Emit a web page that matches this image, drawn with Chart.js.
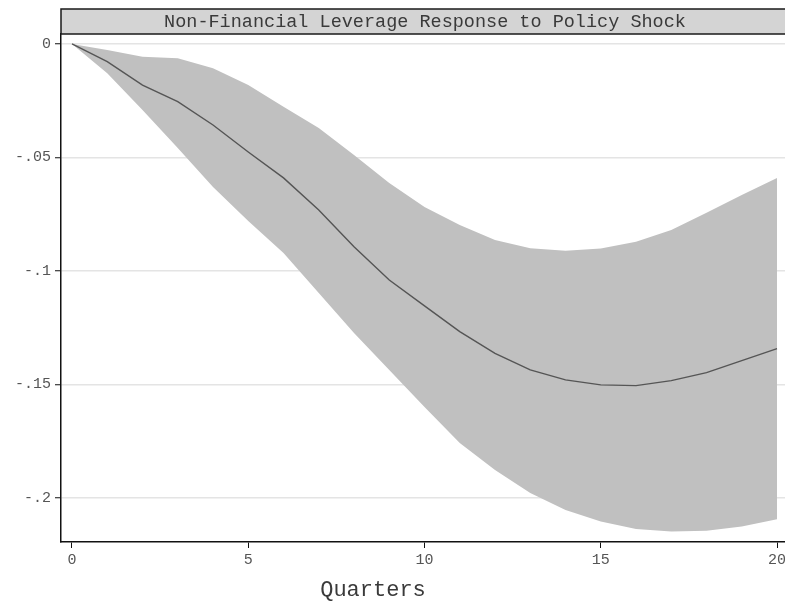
<!DOCTYPE html>
<html>
<head>
<meta charset="utf-8">
<script src="https://cdn.jsdelivr.net/npm/chart.js@4.4.0/dist/chart.umd.min.js"></script>
<style>
  html, body { margin: 0; padding: 0; background: #fff; overflow: hidden; }
  #wrap { width: 785px; height: 601px; overflow: hidden; }
</style>
</head>
<body>
<div id="wrap"><canvas id="irf" width="791" height="601"></canvas></div>
<script>
// quarters after the shock
var quarters = [0,1,2,3,4,5,6,7,8,9,10,11,12,13,14,15,16,17,18,19,20];

// point response
var response = [0, -0.0078, -0.0181, -0.0254, -0.0357, -0.0476, -0.0590, -0.0731, -0.0893, -0.1040,
  -0.1154, -0.1267, -0.1363, -0.1436, -0.1480, -0.1502, -0.1505, -0.1483, -0.1448, -0.1395, -0.1342];

// confidence band
var upper = [0, -0.0026, -0.0056, -0.0063, -0.0107, -0.0181, -0.0276, -0.0370, -0.0489, -0.0612,
  -0.0718, -0.0797, -0.0863, -0.0900, -0.0911, -0.0901, -0.0871, -0.0819, -0.0744, -0.0665, -0.0590];
var lower = [0, -0.0129, -0.0291, -0.0458, -0.0630, -0.0780, -0.0921, -0.1097, -0.1273, -0.1436,
  -0.1599, -0.1758, -0.1877, -0.1978, -0.2053, -0.2104, -0.2137, -0.2148, -0.2144, -0.2126, -0.2094];

var xTicks = [0, 5, 10, 15, 20];
var yTicks = [0, -0.05, -0.1, -0.15, -0.2];

var chartTitle = 'Non-Financial Leverage Response to Policy Shock';
var xTitle = 'Quarters';

function pts(arr) {
  return quarters.map(function (q, i) { return { x: q, y: arr[i] }; });
}

function yLabel(v) {
  if (v === 0) return '0';
  return '-' + String(Math.abs(v)).replace(/^0/, '');
}

var mono = '"Liberation Mono", "DejaVu Sans Mono", monospace';

var decor = {
  id: 'decor',
  afterDraw: function (chart) {
    var ctx = chart.ctx;
    var a = chart.chartArea;
    ctx.save();
    // title box
    ctx.fillStyle = '#d4d4d4';
    ctx.fillRect(a.left, 9, a.right - a.left + 20, a.top - 9);
    ctx.strokeStyle = '#1a1a1a';
    ctx.lineWidth = 1.5;
    ctx.strokeRect(a.left, 9, a.right - a.left + 20, a.top - 9);
    ctx.fillStyle = '#3a3a3a';
    ctx.font = '18.5px ' + mono;
    ctx.textAlign = 'center';
    ctx.textBaseline = 'middle';
    ctx.fillText(chartTitle, (a.left + a.right) / 2, 22);
    // x axis title
    ctx.font = '22px ' + mono;
    ctx.fillStyle = '#3a3a3a';
    ctx.fillText(xTitle, 373, 590);
    ctx.restore();
  }
};

var ctx = document.getElementById('irf').getContext('2d');
var myChart = new Chart(ctx, {
  type: 'line',
  data: {
    datasets: [
      {
        label: 'response',
        data: pts(response),
        borderColor: '#555555',
        borderWidth: 1.4,
        pointRadius: 0,
        fill: false,
        tension: 0
      },
      {
        label: 'upper',
        data: pts(upper),
        borderWidth: 0,
        borderColor: 'rgba(0,0,0,0)',
        backgroundColor: '#c0c0c0',
        pointRadius: 0,
        fill: '+1',
        tension: 0
      },
      {
        label: 'lower',
        data: pts(lower),
        borderWidth: 0,
        borderColor: 'rgba(0,0,0,0)',
        pointRadius: 0,
        fill: false,
        tension: 0
      }
    ]
  },
  options: {
    responsive: false,
    animation: false,
    layout: { padding: { top: 34, right: 2, left: 0, bottom: 0 } },
    plugins: {
      legend: { display: false },
      tooltip: { enabled: false }
    },
    scales: {
      x: {
        type: 'linear',
        min: -0.312,
        max: 20.34,
        afterFit: function (s) { s.height = 59; },
        afterBuildTicks: function (s) { s.ticks = xTicks.map(function (v) { return { value: v }; }); },
        border: { color: '#111', width: 1.5 },
        grid: { drawOnChartArea: false, tickLength: 6, tickColor: '#111', tickWidth: 1 },
        ticks: {
          color: '#555',
          font: { family: mono, size: 15 },
          padding: 3,
          maxRotation: 0
        }
      },
      y: {
        min: -0.2194,
        max: 0.0044,
        afterFit: function (s) { s.width = 61; },
        afterBuildTicks: function (s) { s.ticks = yTicks.map(function (v) { return { value: v }; }); },
        border: { color: '#111', width: 1.5 },
        grid: { color: '#e4e4e4', lineWidth: 1.5, tickLength: 6, tickColor: '#111', tickWidth: 1 },
        ticks: {
          color: '#555',
          font: { family: mono, size: 15 },
          padding: 4,
          callback: function (v) { return yLabel(v); }
        }
      }
    }
  },
  plugins: [decor]
});
</script>
</body>
</html>
